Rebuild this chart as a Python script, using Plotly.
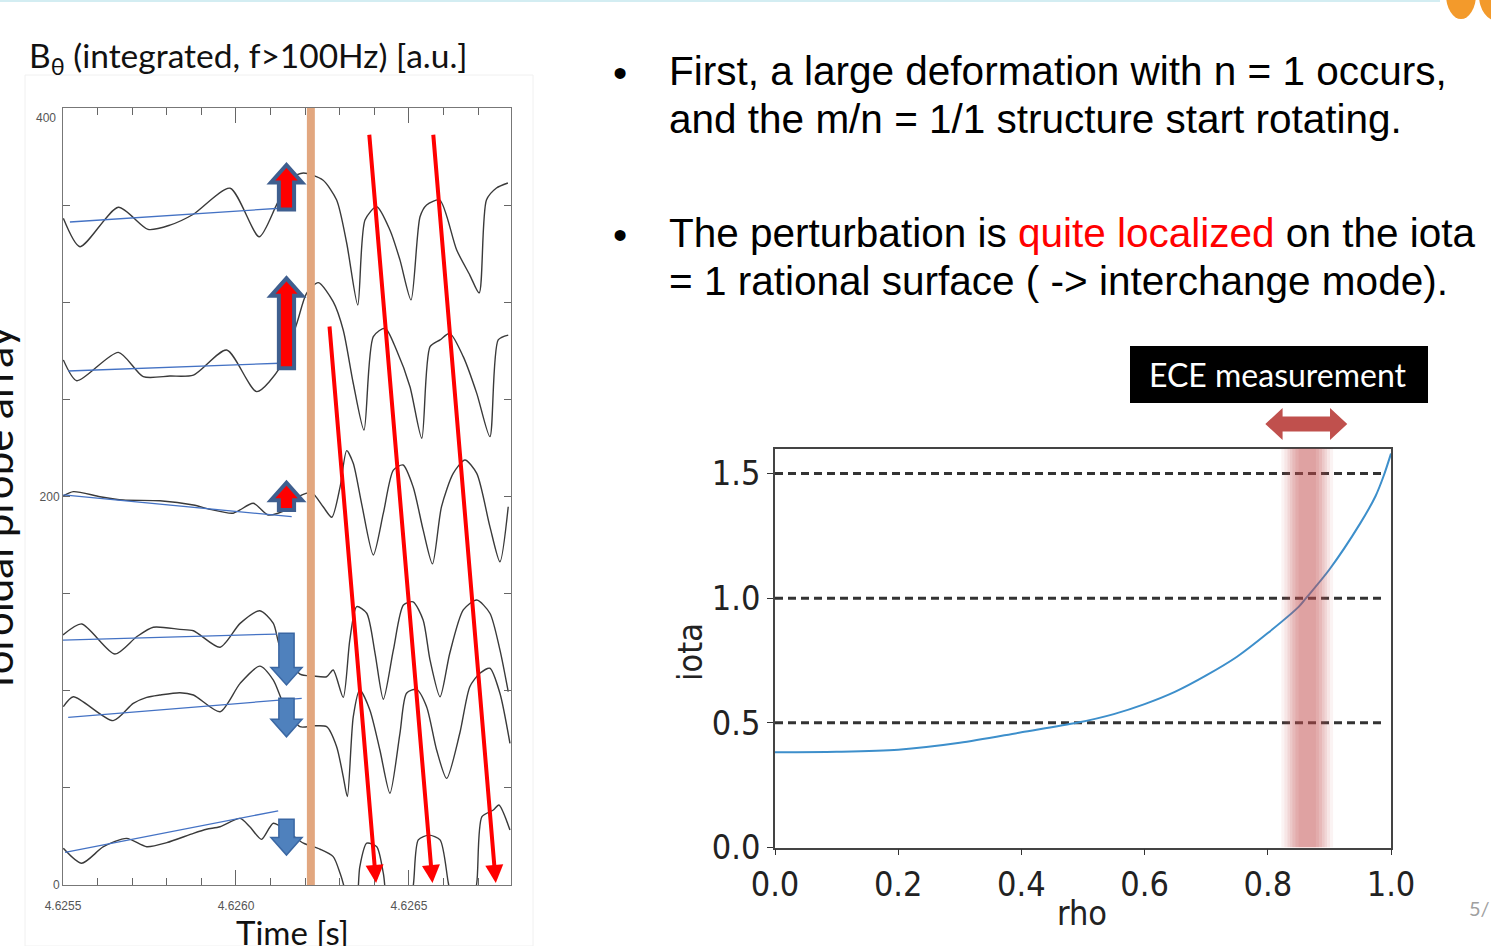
import plotly.graph_objects as go

W, H = 1491, 946
T0 = 4.6255  # s, left edge of the time axis

# ---------------- left panel data (time in microseconds after T0) -------------
t1_us = [1, 49, 160, 246, 309, 377, 483, 567, 618, 660, 695, 751, 791, 820, 852, 873, 907, 945, 974, 1006,
         1032, 1051, 1089, 1138, 1176, 1203, 1224, 1253, 1286]
y1 = [343.2, 328.6, 348.9, 337.5, 339.7, 345.3, 358.7, 333.7, 350.4, 364.0, 366.5, 362.9, 352.6, 330.5, 298.6,
      342.3, 349.2, 337.2, 321.8, 301.2, 344.0, 350.1, 352.6, 326.9, 314.0, 304.8, 352.6, 358.8, 361.4]

t2_us = [1, 40, 160, 232, 309, 377, 473, 560, 629, 676, 704, 738, 781, 810, 839, 870, 897, 931, 964, 1003,
         1037, 1061, 1090, 1118, 1157, 1196, 1234, 1258, 1287]
y2 = [270.3, 259.6, 274.2, 261.7, 262.0, 262.5, 275.4, 254.0, 266.8, 289.2, 304.6, 310.1, 300.3, 285.7, 258.3,
      234.2, 282.3, 286.6, 275.4, 256.5, 230.0, 277.1, 280.6, 284.0, 272.0, 253.1, 230.8, 280.6, 283.1]

t3_us = [1, 30, 107, 174, 280, 377, 425, 492, 550, 593, 645, 685, 719, 752, 777, 801, 820, 839, 863, 897,
         926, 955, 983, 1012, 1041, 1068, 1094, 1128, 1162, 1196, 1234, 1263, 1287]
y3 = [200.3, 202.5, 199.9, 198.2, 197.8, 195.6, 193.4, 191.4, 196.5, 190.5, 193.1, 200.3, 202.0, 194.7, 189.3,
      205.0, 223.6, 217.1, 196.5, 169.9, 191.4, 213.6, 216.2, 205.0, 182.8, 165.3, 194.7, 211.9, 218.8, 211.9,
      184.5, 166.4, 194.7]

t4_us = [0, 54, 150, 213, 261, 338, 377, 454, 512, 569, 608, 627, 685, 723, 762, 781, 810, 829, 849, 878,
         902, 926, 955, 984, 1012, 1041, 1061, 1090, 1118, 1157, 1196, 1234, 1263, 1287]
y4 = [128.7, 134.4, 118.9, 127.8, 132.7, 131.6, 130.9, 122.4, 134.7, 141.2, 134.7, 122.7, 108.6, 107.6, 107.2,
      110.7, 96.6, 126.1, 143.3, 139.9, 119.3, 95.6, 121.0, 144.1, 145.8, 136.4, 115.8, 96.9, 119.3, 141.6,
      146.7, 139.9, 121.0, 99.5]

t5_us = [1, 30, 145, 203, 242, 280, 338, 377, 454, 512, 569, 608, 637, 685, 723, 762, 791, 810, 822, 839,
         858, 887, 916, 945, 974, 993, 1022, 1051, 1080, 1109, 1147, 1176, 1205, 1234, 1263, 1292]
y5 = [91.8, 96.9, 84.6, 93.5, 96.6, 97.8, 99.0, 97.8, 89.2, 103.8, 112.7, 105.5, 93.5, 81.5, 81.9, 81.5, 71.2,
      55.8, 45.5, 86.6, 100.4, 90.1, 69.5, 47.2, 78.1, 98.7, 100.7, 91.8, 69.5, 54.9, 78.1, 102.1, 109.0, 111.6,
      98.7, 72.9]

t6_us = [1, 54, 117, 184, 242, 300, 377, 415, 454, 512, 540, 574, 608, 656, 695, 743, 781, 801, 815, 830,
         845, 858, 878, 907, 926, 945, 990, 1012, 1027, 1058, 1090, 1114, 1133, 1176, 1196, 1211, 1244, 1260, 1292]
y6 = [18.9, 11.2, 19.7, 24.0, 19.7, 21.8, 26.6, 28.7, 30.0, 34.3, 30.0, 23.5, 31.8, 26.6, 21.5, 18.4, 14.6, 6.0,
      -2.6, -15, -15, 9.4, 21.5, 19.7, 6.0, -15, -15, -0.9, 23.2, 25.7, 23.2, 0.9, -15, -15, 0.9, 35.2, 38.6,
      41.2, 28.3]

# thin blue trend lines before the event
fit_t_us = [[20, 627], [15, 627], [1, 661], [0, 618], [15, 690], [6, 622]]
fit_y = [[341.3, 348.4], [264.6, 268.6], [200.8, 189.6], [126.1, 129.2], [86.3, 96.1], [16.8, 38.2]]

# block arrows (base value -> tip value) at one time
arrow_t_us = 646
arrow_from = [347.8, 266.0, 193.1, 129.6, 96.1, 33.8]
arrow_to = [370.7, 312.3, 207.1, 103.0, 76.3, 15.4]

# red propagation arrows
red_tail_t_us = [770, 885, 1070]
red_tail_y = [288.3, 387.0, 387.0]
red_tip_t_us = [905, 1068, 1251]
red_tip_y = [1.0, 1.0, 1.0]

event_t_us = [705, 728]  # orange band

# ---------------- right panel data ----------------
rho = [0, 0.1, 0.2, 0.3, 0.4, 0.49, 0.55, 0.6, 0.65, 0.7, 0.75, 0.8, 0.85, 0.862, 0.9, 0.95, 0.975, 0.988, 1.0]
iota = [0.382, 0.384, 0.392, 0.42, 0.462, 0.5, 0.535, 0.575, 0.625, 0.69, 0.765, 0.86, 0.965, 1.0, 1.115, 1.3,
        1.41, 1.49, 1.58]
iota_levels = [0.5, 1.0, 1.5]
rational_rho = 0.864
ece_range = [0.796, 0.929]


def tx(t_us):
    return T0 + t_us * 1e-6


def PX(p):
    return p / W


def PY(p):
    return 1 - p / H


fig = go.Figure()

traces = [(t1_us, y1), (t2_us, y2), (t3_us, y3), (t4_us, y4), (t5_us, y5), (t6_us, y6)]
for tt, yy in traces:
    fig.add_trace(go.Scatter(x=[tx(v) for v in tt], y=yy, mode="lines",
                             line=dict(color="#3a3a3a", width=1.4, shape="spline", smoothing=0.7),
                             xaxis="x", yaxis="y", hoverinfo="skip", showlegend=False))
for tt, yy in zip(fit_t_us, fit_y):
    fig.add_trace(go.Scatter(x=[tx(v) for v in tt], y=yy, mode="lines",
                             line=dict(color="#4472C4", width=1.3),
                             xaxis="x", yaxis="y", hoverinfo="skip", showlegend=False))

for lvl in iota_levels:
    fig.add_trace(go.Scatter(x=[0, 0.99], y=[lvl, lvl], mode="lines",
                             line=dict(color="#333333", width=3, dash="8px,5px"),
                             xaxis="x2", yaxis="y2", hoverinfo="skip", showlegend=False))
fig.add_trace(go.Scatter(x=rho, y=iota, mode="lines",
                         line=dict(color="#3D8FCB", width=2, shape="spline", smoothing=0.8),
                         xaxis="x2", yaxis="y2", hoverinfo="skip", showlegend=False))

shapes = []
# orange event band
shapes.append(dict(type="rect", xref="x", yref="y", x0=tx(event_t_us[0]), x1=tx(event_t_us[1]),
                   y0=0, y1=400, fillcolor="#E2A77F", line=dict(width=0), layer="above"))

# block arrows
bw, hw, hl = 22e-6, 45e-6, 9.0
c = tx(arrow_t_us)
for a0, a1 in zip(arrow_from, arrow_to):
    up = a1 > a0
    yh = a1 - hl if up else a1 + hl
    path = (f"M {c-bw},{a0} L {c-bw},{yh} L {c-hw},{yh} L {c},{a1} L {c+hw},{yh} "
            f"L {c+bw},{yh} L {c+bw},{a0} Z")
    if up:
        shapes.append(dict(type="path", xref="x", yref="y", path=path, fillcolor="#FF0000",
                           line=dict(color="#3F5F8F", width=4), layer="above"))
    else:
        shapes.append(dict(type="path", xref="x", yref="y", path=path, fillcolor="#4F81BD",
                           line=dict(color="#3A67A3", width=1.5), layer="above"))

# red band (soft edges)
for hw_r, op in [(0.042, 0.07), (0.037, 0.08), (0.032, 0.1), (0.028, 0.1), (0.024, 0.12), (0.019, 0.12),
                 (0.014, 0.1)]:
    shapes.append(dict(type="rect", xref="x2", yref="y2", x0=rational_rho - hw_r, x1=rational_rho + hw_r,
                       y0=0, y1=1.6, fillcolor="rgba(200,80,80,%s)" % op, line=dict(width=0), layer="above"))

# double arrow above the band
rl, rr = ece_range
hlr = 0.028
yc = PY(424)
sh, hh = 7.5 / H, 16 / H
dpath = (f"M {rl},{yc} L {rl+hlr},{yc+hh} L {rl+hlr},{yc+sh} L {rr-hlr},{yc+sh} L {rr-hlr},{yc+hh} "
         f"L {rr},{yc} L {rr-hlr},{yc-hh} L {rr-hlr},{yc-sh} L {rl+hlr},{yc-sh} L {rl+hlr},{yc-hh} Z")
shapes.append(dict(type="path", xref="x2", yref="paper", path=dpath, fillcolor="#C0504D",
                   line=dict(width=0)))

# ECE box
shapes.append(dict(type="rect", xref="paper", yref="paper", x0=PX(1130), x1=PX(1428), y0=PY(403), y1=PY(346),
                   fillcolor="black", line=dict(width=0)))
# slide decorations
shapes.append(dict(type="line", xref="paper", yref="paper", x0=0, x1=PX(1440), y0=PY(1), y1=PY(1),
                   line=dict(color="#D3EDF2", width=2)))
shapes.append(dict(type="circle", xref="paper", yref="paper", x0=PX(1446), x1=PX(1476), y0=PY(19), y1=PY(-30),
                   fillcolor="#F39A2B", line=dict(width=0)))
shapes.append(dict(type="circle", xref="paper", yref="paper", x0=PX(1479), x1=PX(1516), y0=PY(21), y1=PY(-30),
                   fillcolor="#F39A2B", line=dict(width=0)))
shapes.append(dict(type="rect", xref="paper", yref="paper", x0=PX(25), x1=PX(533), y0=PY(946), y1=PY(75),
                   fillcolor="rgba(0,0,0,0)", line=dict(color="#F0F0F0", width=1), layer="below"))

annotations = []
for xa, ya, xt, yt in zip(red_tail_t_us, red_tail_y, red_tip_t_us, red_tip_y):
    annotations.append(dict(x=tx(xt), y=yt, ax=tx(xa), ay=ya, xref="x", yref="y", axref="x", ayref="y",
                            text="", showarrow=True, arrowhead=2, arrowsize=0.9, arrowwidth=4,
                            arrowcolor="#FF0000", standoff=0))

# "400" label (drawn slightly below the top tick like the original)
annotations.append(dict(x=PX(58), y=400, xref="paper", yref="y", yshift=-10, text="400", showarrow=False,
                        xanchor="right", font=dict(family="Liberation Sans", size=12, color="#555555")))

txt_font = "Liberation Sans"
ann_text = [
    (620, 73, "•", "black", "center"),
    (620, 235, "•", "black", "center"),
    (667, 71, "First, a large deformation with n = 1 occurs,", "black", "left"),
    (667, 119, "and the m/n = 1/1 structure start rotating.", "black", "left"),
    (667, 233, 'The perturbation is <span style="color:#FF0000">quite localized</span> on the iota', "black", "left"),
    (667, 281, "= 1 rational surface ( -> interchange mode).", "black", "left"),
]
for xp, yp, t, col, anc in ann_text:
    annotations.append(dict(x=PX(xp), y=PY(yp), xref="paper", yref="paper", text=t, showarrow=False,
                            xanchor=anc, yanchor="middle", font=dict(family=txt_font, size=40.5, color=col)))

narrow = "Liberation Sans Narrow, DejaVu Sans Condensed, Liberation Sans"
annotations += [
    dict(x=PX(27), y=PY(57), xref="paper", yref="paper", text="B<sub>θ</sub> (integrated, f>100Hz) [a.u.]",
         showarrow=False, xanchor="left", yanchor="middle", font=dict(family="Lato", size=33.5, color="#111")),
    dict(x=PX(292), y=PY(932), xref="paper", yref="paper", text="Time [s]", showarrow=False,
         xanchor="center", yanchor="middle", font=dict(family="Lato", size=33, color="#111")),
    dict(x=PX(-3), y=PY(510), xref="paper", yref="paper", text="Toroidal probe array", textangle=-90,
         showarrow=False, xanchor="center", yanchor="middle", font=dict(family="Lato", size=42, color="#111")),
    dict(x=PX(1278), y=PY(375), xref="paper", yref="paper", text="ECE measurement", showarrow=False,
         xanchor="center", yanchor="middle", font=dict(family="Lato", size=32, color="white")),
    dict(x=PX(690), y=PY(652), xref="paper", yref="paper", text="iota", textangle=-90, showarrow=False,
         xanchor="center", yanchor="middle", font=dict(family=narrow, size=34, color="#222")),
    dict(x=PX(1082), y=PY(913), xref="paper", yref="paper", text="rho", showarrow=False,
         xanchor="center", yanchor="middle", font=dict(family=narrow, size=34, color="#222")),
    dict(x=PX(1467), y=PY(908), xref="paper", yref="paper", text="5/", showarrow=False,
         xanchor="left", yanchor="middle", font=dict(family="Lato", size=20, color="#A0A0A0")),
]

ytv = list(range(0, 401, 50))
ytt = ["0", "", "", "", "200", "", "", "", ""]

fig.update_layout(
    width=W, height=H, margin=dict(l=0, r=0, t=0, b=0, autoexpand=False),
    paper_bgcolor="white", plot_bgcolor="white", showlegend=False,
    xaxis=dict(domain=[PX(63), PX(511)], range=[T0, tx(1295)], tick0=T0, dtick=0.0005, tickformat=".4f",
               ticks="inside", ticklen=15, tickcolor="#666", showline=True, linecolor="#777", linewidth=1,
               mirror="allticks", showgrid=False, zeroline=False, ticklabelstandoff=10, automargin=False,
               minor=dict(dtick=0.0001, ticks="inside", ticklen=7, tickcolor="#666"),
               tickfont=dict(family="Liberation Sans", size=12, color="#555555")),
    yaxis=dict(domain=[PY(885), PY(108)], range=[0, 400], tickvals=ytv, ticktext=ytt,
               ticks="inside", ticklen=7, tickcolor="#666", showline=True, linecolor="#777", linewidth=1,
               mirror="allticks", showgrid=False, zeroline=False, automargin=False,
               tickfont=dict(family="Liberation Sans", size=12, color="#555555")),
    xaxis2=dict(domain=[PX(775), PX(1391)], range=[0, 1], tickvals=[0, 0.2, 0.4, 0.6, 0.8, 1.0],
                tickformat=".1f", ticks="outside", ticklen=6, tickcolor="#333", showline=True,
                linecolor="#444", linewidth=1.5, mirror=True, showgrid=False, zeroline=False, automargin=False,
                anchor="y2", tickfont=dict(family=narrow, size=34, color="#222")),
    yaxis2=dict(domain=[PY(847.5), PY(448.6)], range=[0, 1.6], tickvals=[0, 0.5, 1.0, 1.5],
                tickformat=".1f", ticks="outside", ticklen=6, tickcolor="#333", showline=True,
                linecolor="#444", linewidth=1.5, mirror=True, showgrid=False, zeroline=False, automargin=False,
                anchor="x2", tickfont=dict(family=narrow, size=34, color="#222")),
    shapes=shapes, annotations=annotations,
)

fig.write_html("out.html")
